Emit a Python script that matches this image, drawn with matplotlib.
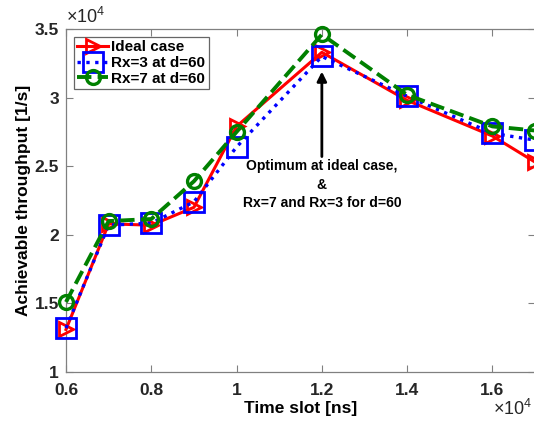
import numpy as np
import matplotlib.pyplot as plt
from matplotlib.ticker import FuncFormatter

plt.rcParams.update({
    "font.family": ["Liberation Sans", "DejaVu Sans"],
    "font.weight": "bold",
    "mathtext.default": "regular",
})

time_slot = [6000, 7000, 8000, 9000, 10000, 12000, 14000, 16000, 17000]
ideal_case = [13100, 20800, 20700, 22000, 27900, 33300, 29800, 27200, 25300]
rx3_d60 = [13200, 20700, 20850, 22400, 26400, 33000, 30100, 27400, 26900]
rx7_d60 = [15100, 21000, 21150, 23900, 27500, 34600, 30200, 27900, 27600]

xticks = [6000, 8000, 10000, 12000, 14000, 16000]
yticks = [10000, 15000, 20000, 25000, 30000, 35000]

fig = plt.figure(figsize=(5.34, 4.21), dpi=100)
ax = fig.add_axes([66 / 534, 49 / 421, 1.002 - 66 / 534, 343 / 421])

ax.plot(time_slot, ideal_case, '-', color='red', lw=2.2, marker='>',
        ms=10, mfc='none', mew=2, label='Ideal case', zorder=3, clip_on=False)
ax.plot(time_slot, rx3_d60, ':', color='blue', lw=2.4, marker='s',
        ms=14, mfc='none', mew=2, label='Rx=3 at d=60', zorder=4, clip_on=False)
ax.plot(time_slot, rx7_d60, '--', color='green', lw=2.8, marker='o',
        ms=10, mfc='none', mew=2.4, label='Rx=7 at d=60', zorder=5, clip_on=False)

ax.set_xlim(6000, 17000)
ax.set_ylim(10000, 35000)
ax.set_xticks(xticks)
ax.set_yticks(yticks)
fmt = FuncFormatter(lambda v, p: '%g' % (v / 1e4))
ax.xaxis.set_major_formatter(fmt)
ax.yaxis.set_major_formatter(fmt)
ax.tick_params(direction='in', top=True, right=True, length=5, width=0.8,
               color='#808080', labelsize=12.5, labelcolor='#262626')
ax.tick_params(axis='x', pad=8)
ax.tick_params(axis='y', pad=5)
for s in ax.spines.values():
    s.set_color('#808080')
    s.set_linewidth(0.9)

ax.set_xlabel('Time slot [ns]', fontsize=12.5, fontweight='bold', labelpad=2)
ax.set_ylabel('Achievable throughput [1/s]', fontsize=12.5, fontweight='bold',
              labelpad=3)

# exponent labels for both axes
ax.text(0.0, 1.006, r'$\times10^{4}$', transform=ax.transAxes, fontsize=13,
        fontweight='normal', color='#262626', ha='left', va='bottom')
fig.text(532 / 534, 2 / 421, r'$\times10^{4}$', fontsize=13,
         fontweight='normal', color='#262626', ha='right', va='bottom')

ax.annotate('Optimum at ideal case,\n&\nRx=7 and Rx=3 for d=60',
            xy=(12000, 31900), xytext=(12000, 25500),
            ha='center', va='top', fontsize=10, fontweight='bold',
            linespacing=1.4,
            arrowprops=dict(arrowstyle='-|>', color='black', lw=2,
                            mutation_scale=14, shrinkA=0, shrinkB=0))

leg = ax.legend(loc='upper left', fontsize=11, handlelength=2.0,
                handletextpad=0.2, borderpad=0.25, labelspacing=0.1,
                fancybox=False, edgecolor='#404040', borderaxespad=0.5)
leg.get_frame().set_linewidth(0.9)
for t in leg.get_texts():
    t.set_fontweight('bold')

fig.savefig('out.png', dpi=100)
